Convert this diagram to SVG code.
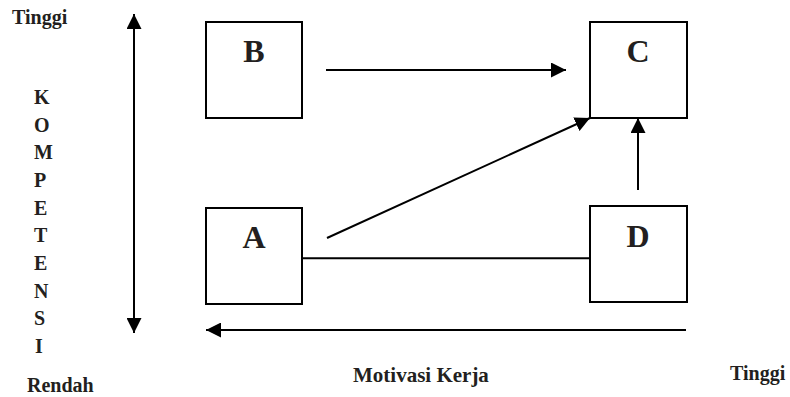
<svg xmlns="http://www.w3.org/2000/svg" width="790" height="397" viewBox="0 0 790 397">
  <style>
    .box { fill: #ffffff; stroke: #000000; stroke-width: 2; }
    .lbl { font-family: "Liberation Serif", "Times New Roman", serif; font-weight: bold; fill: #231f20; }
    .node { font-size: 32px; text-anchor: middle; }
    .axis { font-size: 20px; }
    .line { stroke: #000000; stroke-width: 2; fill: none; }
  </style>
  <defs>
    <marker id="head" viewBox="0 0 15 15" refX="15" refY="7.5" markerWidth="15" markerHeight="15" markerUnits="userSpaceOnUse" orient="auto-start-reverse">
      <path d="M0,0 L15,7.5 L0,15 Z" fill="#000000"/>
    </marker>
  </defs>

  <!-- axis labels -->
  <g id="axis-labels" class="lbl axis">
    <text x="12" y="24">Tinggi</text>
    <text x="27" y="392">Rendah</text>
    <text x="353" y="382" style="font-size:21px">Motivasi Kerja</text>
    <text x="730" y="380">Tinggi</text>
    <text x="34" y="104">K</text>
    <text x="34" y="131.7">O</text>
    <text x="34" y="159.3">M</text>
    <text x="34" y="187">P</text>
    <text x="34" y="214.7">E</text>
    <text x="34" y="242.3">T</text>
    <text x="34" y="270">E</text>
    <text x="34" y="297.7">N</text>
    <text x="34" y="325.3">S</text>
    <text x="35" y="353">I</text>
  </g>

  <!-- nodes -->
  <g id="node-B">
    <rect class="box" x="206" y="22" width="96" height="96"/>
    <text class="lbl node" x="254" y="62">B</text>
  </g>
  <g id="node-C">
    <rect class="box" x="590" y="22" width="97" height="96"/>
    <text class="lbl node" x="638" y="62">C</text>
  </g>
  <g id="node-A">
    <rect class="box" x="206" y="208" width="96" height="96"/>
    <text class="lbl node" x="254" y="248">A</text>
  </g>
  <g id="node-D">
    <rect class="box" x="590" y="206" width="97" height="96"/>
    <text class="lbl node" x="638" y="247">D</text>
  </g>

  <!-- connectors -->
  <g id="connectors">
    <line class="line" x1="134" y1="14" x2="134" y2="333" marker-start="url(#head)" marker-end="url(#head)"/>
    <line class="line" x1="686" y1="330" x2="206" y2="330" marker-end="url(#head)"/>
    <line class="line" x1="326" y1="70" x2="566" y2="70" marker-end="url(#head)"/>
    <line class="line" x1="327" y1="238" x2="590" y2="118" marker-end="url(#head)"/>
    <line class="line" x1="638" y1="190" x2="638" y2="118" marker-end="url(#head)"/>
    <line class="line" x1="302" y1="258.3" x2="590" y2="258.3"/>
  </g>
</svg>
